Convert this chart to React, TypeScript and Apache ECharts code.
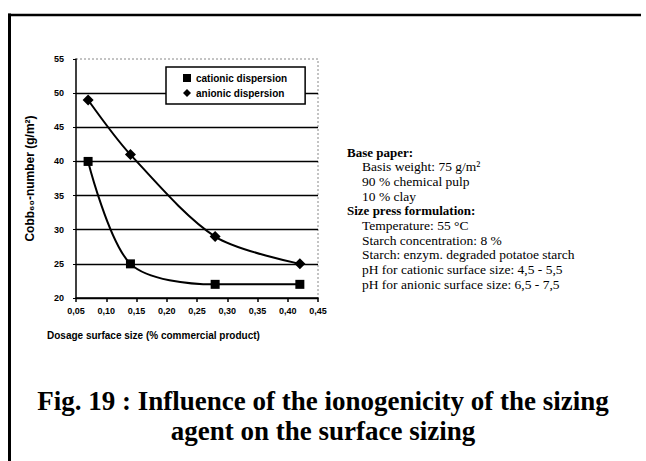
import React, { useEffect, useRef } from "react";
import * as echarts from "echarts";

const dosage = [0.07, 0.14, 0.28, 0.42];
const cationic = [40, 25, 22, 22];
const anionic = [49, 41, 29, 25];
const seriesNames = ["cationic dispersion", "anionic dispersion"];
const yAxisTitle = "Cobb₆₀-number (g/m²)";
const xAxisTitle = "Dosage surface size (% commercial product)";
const infoLines: [string, boolean][] = [
  ["Base paper:", true],
  ["Basis weight: 75 g/m²", false],
  ["90 % chemical pulp", false],
  ["10 % clay", false],
  ["Size press formulation:", true],
  ["Temperature: 55 °C", false],
  ["Starch concentration: 8 %", false],
  ["Starch: enzym. degraded potatoe starch", false],
  ["pH for cationic surface size: 4,5 - 5,5", false],
  ["pH for anionic surface size: 6,5 - 7,5", false],
];
const figTitle = ["Fig. 19 : Influence of the ionogenicity of the sizing", "agent on the surface sizing"];

export default function App() {
  const ref = useRef<HTMLDivElement>(null);
  useEffect(() => {
    if (!ref.current) return;
    const chart = echarts.init(ref.current, null, { renderer: "svg" });
    const sans = "Liberation Sans, Arial, sans-serif";
    const serif = "Liberation Serif, Times New Roman, serif";
    const info = infoLines.map(([t, bold], i) => ({
      type: "text",
      x: bold ? 347 : 362,
      y: 152 + i * 14.7,
      style: {
        text: t,
        font: `${bold ? "bold 13px" : "13.5px"} ${serif}`,
        fill: "#000",
        textVerticalAlign: "middle",
      },
    }));
    const titles = figTitle.map((t, i) => ({
      type: "text",
      x: 323,
      y: 401 + i * 30,
      style: {
        text: t,
        font: `bold 27px ${serif}`,
        fill: "#000",
        textAlign: "center",
        textVerticalAlign: "middle",
      },
    }));
    chart.setOption({
      animation: false,
      backgroundColor: "#fff",
      grid: { left: 76, right: 328, top: 59, bottom: 163 },
      legend: {
        orient: "vertical",
        left: 166,
        top: 67,
        data: [
          { name: seriesNames[0], icon: "rect" },
          { name: seriesNames[1], icon: "diamond" },
        ],
        itemWidth: 8,
        itemHeight: 8,
        itemGap: 5,
        padding: [6, 18, 6, 17],
        backgroundColor: "#fff",
        borderColor: "#000",
        borderWidth: 1.5,
        borderRadius: 0,
        textStyle: { fontFamily: sans, fontWeight: "bold", fontSize: 10, color: "#000", padding: [0, 0, 0, 0] },
      },
      xAxis: {
        type: "value",
        min: 0.05,
        max: 0.45,
        interval: 0.05,
        axisLine: { lineStyle: { color: "#000", width: 1.5 } },
        axisTick: { show: true, length: 4, lineStyle: { color: "#000", width: 1.5 } },
        splitLine: { show: false },
        axisLabel: {
          fontFamily: sans,
          fontWeight: "bold",
          fontSize: 9,
          color: "#000",
          margin: 8,
          formatter: (v: number) => v.toFixed(2).replace(".", ","),
        },
      },
      yAxis: {
        type: "value",
        min: 20,
        max: 55,
        interval: 5,
        name: yAxisTitle,
        nameLocation: "middle",
        nameGap: 40,
        nameTextStyle: { fontFamily: sans, fontWeight: "bold", fontSize: 12, color: "#000" },
        axisLine: { show: true, lineStyle: { color: "#000", width: 1.5 } },
        axisTick: { show: true, length: 3, lineStyle: { color: "#000" } },
        splitLine: { show: true, showMaxLine: false, lineStyle: { color: "#000", width: 1.3 } },
        axisLabel: { fontFamily: sans, fontWeight: "bold", fontSize: 9, color: "#000", margin: 12 },
      },
      series: [
        {
          name: seriesNames[0],
          type: "line",
          data: dosage.map((x, i) => [x, cationic[i]]),
          smooth: 0.3,
          symbol: "rect",
          symbolSize: 9,
          lineStyle: { color: "#000", width: 2 },
          itemStyle: { color: "#000" },
        },
        {
          name: seriesNames[1],
          type: "line",
          data: dosage.map((x, i) => [x, anionic[i]]),
          smooth: 0.3,
          symbol: "diamond",
          symbolSize: 11,
          lineStyle: { color: "#000", width: 2 },
          itemStyle: { color: "#000" },
        },
      ],
      graphic: [
        { type: "line", shape: { x1: 8, y1: 15, x2: 641, y2: 15 }, style: { stroke: "#000", lineWidth: 2.5 } },
        { type: "line", shape: { x1: 9.5, y1: 13.5, x2: 9.5, y2: 461 }, style: { stroke: "#000", lineWidth: 3 } },
        { type: "polyline", shape: { points: [[76, 59], [318, 59], [318, 298]] }, style: { stroke: "#888", lineWidth: 1, lineDash: [2, 2], fill: null } },
        {
          type: "text",
          x: 47,
          y: 335,
          style: { text: xAxisTitle, font: `bold 10px ${sans}`, fill: "#000", textVerticalAlign: "middle" },
        },
        ...info,
        ...titles,
      ],
    });
    return () => chart.dispose();
  }, []);
  return <div ref={ref} style={{ position: "fixed", left: 0, top: 0, width: 646, height: 461 }} />;
}
